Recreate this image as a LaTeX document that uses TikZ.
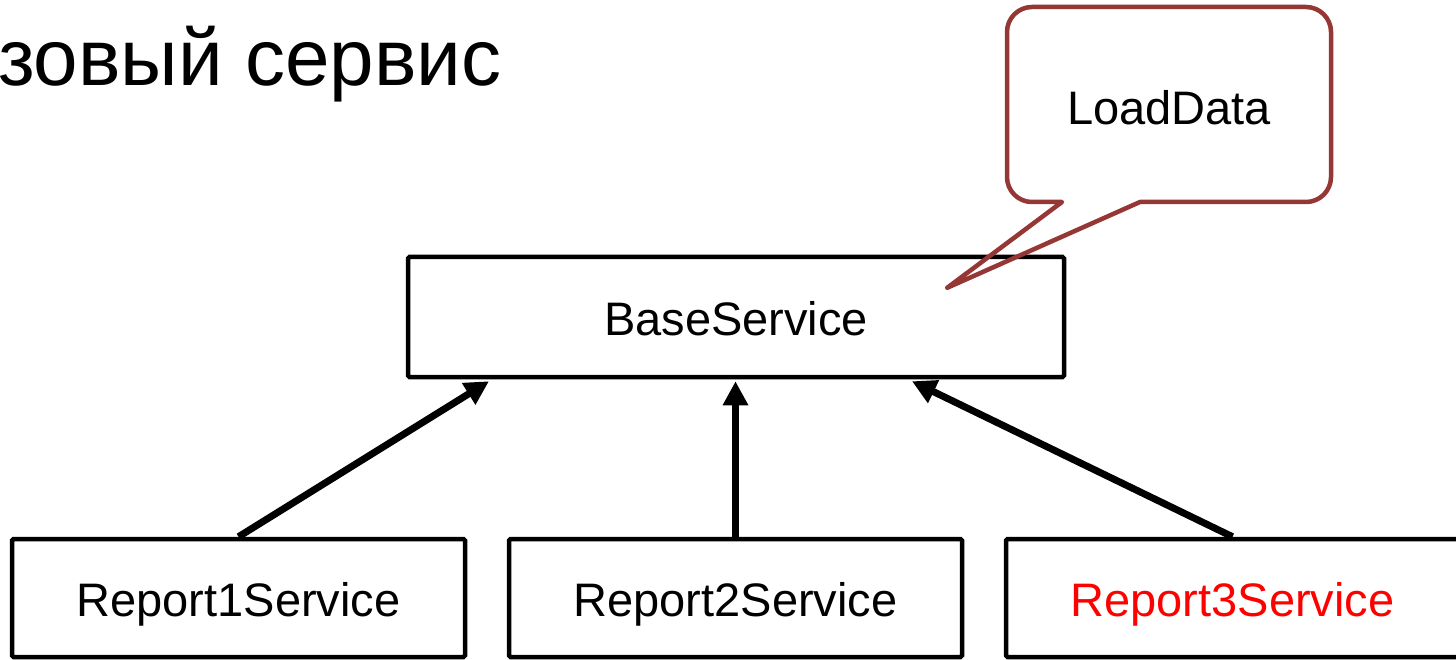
\documentclass[tikz,border=0pt]{standalone}
\usepackage{fontspec}
\setmainfont{Liberation Sans}
\usetikzlibrary{arrows.meta,calc}
\definecolor{calloutred}{RGB}{149,55,53}
\definecolor{hilite}{RGB}{255,0,0}
\begin{document}
\begin{tikzpicture}[x=1pt,y=-1pt,
  classbox/.style={draw=black, line width=4.5pt, rounded corners=1.5pt,
    fill=white, inner sep=0pt, font=\fontsize{47}{56}\selectfont,
    text height=37pt, text depth=0pt},
  inherit/.style={line width=7pt,
    -{Triangle[length=24pt,width=24pt]}},
  calloutline/.style={draw=calloutred, line width=4.5pt, line join=round},
  label/.style={inner sep=0pt, font=\fontsize{47}{56}\selectfont}]
  % page frame
  \clip (0,0) rectangle (1456,660);
  \fill[white] (0,0) rectangle (1456,660);

  % heading
  \node[anchor=base west, inner sep=0pt, font=\fontsize{80}{94}\selectfont]
    (title) at (-2,86) {зовый сервис};

  % classes
  \node[classbox, minimum width=656pt, minimum height=120pt]
    (base) at (736,317) {BaseService};
  \node[classbox, minimum width=453pt, minimum height=118pt]
    (r1) at (238.5,598) {Report1Service};
  \node[classbox, minimum width=453pt, minimum height=118pt]
    (r2) at (735.5,598) {Report2Service};
  \node[classbox, minimum width=453pt, minimum height=118pt, text=hilite]
    (r3) at (1232.5,598) {Report3Service};

  % inheritance arrows
  \draw[inherit] (r1.north) -- ($(base.south)+(-247,2)$);
  \draw[inherit] (r2.north) -- ($(r2.north |- base.south)+(0,2)$);
  \draw[inherit] (r3.north) -- ($(base.south)+(176,2)$);

  % speech-bubble note
  \node[label] (ld) at (1169,108) {LoadData};
  \draw[calloutline]
    ($(ld)+(-107,94)$) [rounded corners=25pt]
      -- ($(ld)+(-162,94)$) -- ($(ld)+(-162,-101)$)
      -- ($(ld)+(162,-101)$) -- ($(ld)+(162,94)$) [sharp corners]
      -- ($(ld)+(-29,94)$)
      -- ($(base.north east)+(-119,33)$) -- cycle;
\end{tikzpicture}
\end{document}
